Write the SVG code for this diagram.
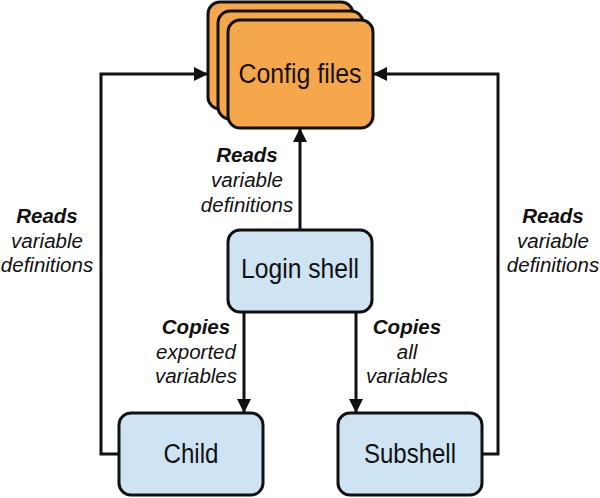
<svg xmlns="http://www.w3.org/2000/svg" width="600" height="498" viewBox="0 0 600 498">
<defs>
<style>
.cfg{fill:#F6A74B;stroke:#111;stroke-width:3}
.blue{fill:#CFE4F2;stroke:#111;stroke-width:3}
.node{font-family:"Liberation Sans",Arial,sans-serif;font-size:27px;fill:#111;text-anchor:middle}
.lbl{font-family:"Liberation Sans",Arial,sans-serif;font-size:20.5px;font-style:italic;fill:#111;text-anchor:middle}
.lbl .b{font-weight:bold}
.con{fill:none;stroke:#111;stroke-width:3}
</style>
<marker id="ah" markerUnits="userSpaceOnUse" markerWidth="14" markerHeight="14" viewBox="0 0 14 14" refX="13" refY="7" orient="auto">
<path d="M0,0 L14,7 L0,14 Z" fill="#111"/>
</marker>
</defs>
<g id="connectors">
<polyline class="con" points="119,454 101,454 101,74 207,74" marker-end="url(#ah)"/>
<polyline class="con" points="482,454 498,454 498,74 374,74" marker-end="url(#ah)"/>
<line class="con" x1="300" y1="230" x2="300" y2="129" marker-end="url(#ah)"/>
<line class="con" x1="244" y1="312" x2="244" y2="412" marker-end="url(#ah)"/>
<line class="con" x1="356" y1="312" x2="356" y2="412" marker-end="url(#ah)"/>
</g>
<g id="labels">
<text class="lbl"><tspan class="b" x="247" y="162">Reads</tspan><tspan x="247" y="187">variable</tspan><tspan x="247" y="212">definitions</tspan></text>
<text class="lbl"><tspan class="b" x="47" y="223">Reads</tspan><tspan x="47" y="248">variable</tspan><tspan x="47" y="272">definitions</tspan></text>
<text class="lbl"><tspan class="b" x="553" y="223">Reads</tspan><tspan x="553" y="248">variable</tspan><tspan x="553" y="272">definitions</tspan></text>
<text class="lbl"><tspan class="b" x="196" y="334">Copies</tspan><tspan x="196" y="359">exported</tspan><tspan x="196" y="383">variables</tspan></text>
<text class="lbl"><tspan class="b" x="407" y="334">Copies</tspan><tspan x="407" y="359">all</tspan><tspan x="407" y="383">variables</tspan></text>
</g>
<g id="config-files">
<rect class="cfg" x="208" y="2" width="145" height="107" rx="12"/>
<rect class="cfg" x="218" y="11" width="145" height="108" rx="12"/>
<rect class="cfg" x="228" y="20" width="145" height="108" rx="12"/>
<text class="node" x="300" y="83" textLength="123" lengthAdjust="spacingAndGlyphs">Config files</text>
</g>
<g id="login-shell">
<rect class="blue" x="228" y="230" width="144" height="82" rx="12"/>
<text class="node" x="300" y="278" textLength="118" lengthAdjust="spacingAndGlyphs">Login shell</text>
</g>
<g id="child">
<rect class="blue" x="119" y="413" width="144" height="82" rx="12"/>
<text class="node" x="191" y="463" textLength="55" lengthAdjust="spacingAndGlyphs">Child</text>
</g>
<g id="subshell">
<rect class="blue" x="338" y="413" width="144" height="82" rx="12"/>
<text class="node" x="410" y="463" textLength="92" lengthAdjust="spacingAndGlyphs">Subshell</text>
</g>
</svg>
